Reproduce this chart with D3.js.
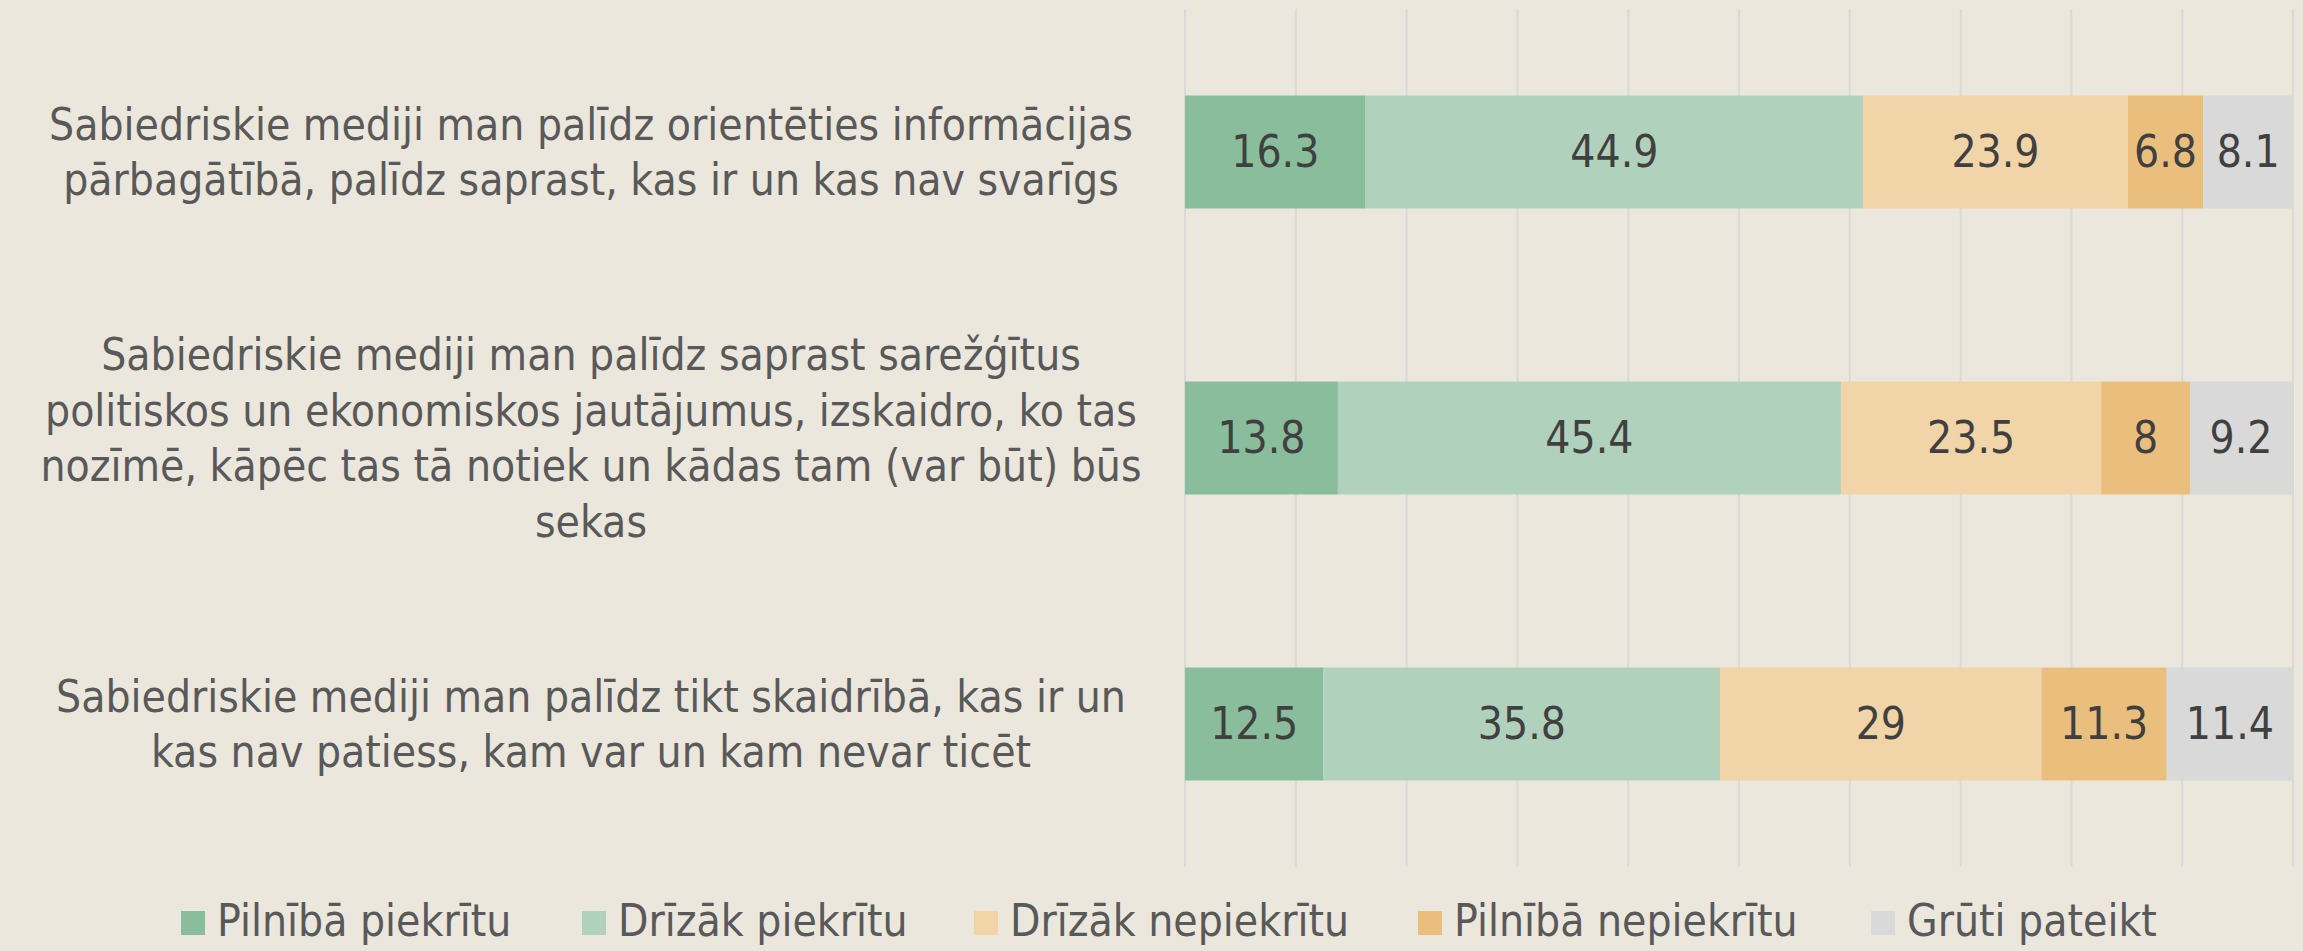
<!DOCTYPE html>
<html lang="lv">
<head>
<meta charset="UTF-8">
<title>Sabiedriskie mediji</title>
<script src="https://cdn.jsdelivr.net/npm/d3@7"></script>
<style>
  html, body { margin: 0; padding: 0; background: #EBE7DD; }
  svg text { font-family: "Liberation Sans Narrow", "DejaVu Sans Condensed", "Liberation Sans", sans-serif; }
</style>
</head>
<body>
<div id="chart"></div>
<script>
// categories, each split into the lines shown in the chart
const categories = [
  ["Sabiedriskie mediji man palīdz orientēties informācijas",
   "pārbagātībā, palīdz saprast, kas ir un kas nav svarīgs"],
  ["Sabiedriskie mediji man palīdz saprast sarežģītus",
   "politiskos un ekonomiskos jautājumus, izskaidro, ko tas",
   "nozīmē, kāpēc tas tā notiek un kādas tam (var būt) būs",
   "sekas"],
  ["Sabiedriskie mediji man palīdz tikt skaidrībā, kas ir un",
   "kas nav patiess, kam var un kam nevar ticēt"]
];
const seriesNames = ["Pilnībā piekrītu", "Drīzāk piekrītu", "Drīzāk nepiekrītu", "Pilnībā nepiekrītu", "Grūti pateikt"];
const fullyAgree    = [16.3, 13.8, 12.5];
const ratherAgree   = [44.9, 45.4, 35.8];
const ratherDisagree = [23.9, 23.5, 29];
const fullyDisagree = [6.8, 8, 11.3];
const hardToSay     = [8.1, 9.2, 11.4];
const xTicks = [0, 10, 20, 30, 40, 50, 60, 70, 80, 90, 100];

const colors = ["#8ABD9B", "#B0D2BD", "#F1D4A8", "#EABE7D", "#D9D9D9"];

const W = 2303, H = 951;
const margin = {top: 9, right: 10, bottom: 84, left: 1185};
const width = W - margin.left - margin.right,
      height = H - margin.top - margin.bottom;

const svg = d3.select("#chart").append("svg")
    .attr("width", W).attr("height", H);

const g = svg.append("g").attr("transform", `translate(${margin.left},${margin.top})`);

const rows = categories.map((c, i) => {
  const vals = [fullyAgree[i], ratherAgree[i], ratherDisagree[i], fullyDisagree[i], hardToSay[i]];
  const r = {idx: i};
  seriesNames.forEach((s, j) => r[s] = vals[j]);
  return r;
});

const x = d3.scaleLinear().domain([0, 100]).range([0, 1108]);
const y = d3.scaleBand().domain(d3.range(categories.length)).range([0, height])
    .paddingInner(0.605).paddingOuter(0.3025);

// gridlines
g.selectAll("line.grid").data(xTicks).join("line")
    .attr("class", "grid")
    .attr("x1", d => x(d)).attr("x2", d => x(d))
    .attr("y1", 0).attr("y2", height)
    .attr("stroke", "#D9D9D9").attr("stroke-width", 2);

const stack = d3.stack().keys(seriesNames)(rows);

const layer = g.selectAll("g.layer").data(stack).join("g")
    .attr("class", "layer")
    .attr("fill", (d, i) => colors[i]);

layer.selectAll("rect").data(d => d).join("rect")
    .attr("x", d => x(d[0]))
    .attr("y", d => y(d.data.idx))
    .attr("width", d => x(d[1]) - x(d[0]))
    .attr("height", y.bandwidth());

layer.selectAll("text").data(d => d.map(p => ({p, key: d.key}))).join("text")
    .attr("x", d => x((d.p[0] + d.p[1]) / 2))
    .attr("y", d => y(d.p.data.idx) + y.bandwidth() / 2)
    .attr("dy", "0.35em")
    .attr("text-anchor", "middle")
    .attr("fill", "#404040")
    .attr("font-size", 44)
    .text(d => d.p.data[d.key]);

// category labels
const lineH = 55.5;
const cat = svg.append("g").attr("transform", `translate(0,${margin.top})`);
categories.forEach((lines, i) => {
  const cy = y(i) + y.bandwidth() / 2;
  const t = cat.append("text")
      .attr("text-anchor", "middle")
      .attr("fill", "#595959")
      .attr("font-size", 44);
  lines.forEach((ln, k) => {
    t.append("tspan")
      .attr("x", 591)
      .attr("y", cy + (k - (lines.length - 1) / 2) * lineH)
      .attr("dy", "0.35em")
      .text(ln);
  });
});

// legend
const legendX = [181, 582, 974, 1418, 1871];
const legend = svg.append("g").attr("transform", `translate(0,${H - 30})`);
seriesNames.forEach((s, i) => {
  const it = legend.append("g").attr("transform", `translate(${legendX[i]},0)`);
  it.append("rect").attr("x", 0).attr("y", -10).attr("width", 24).attr("height", 24)
    .attr("fill", colors[i]);
  it.append("text").attr("x", 36).attr("y", 0).attr("dy", "0.35em")
    .attr("fill", "#595959").attr("font-size", 44).text(s);
});
</script>
</body>
</html>
